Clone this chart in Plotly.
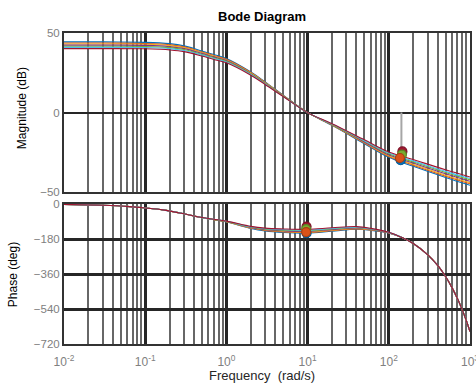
import plotly.graph_objects as go

# ---------------- data ----------------
freq_mag = [0.01, 0.03, 0.1, 0.15, 0.2, 0.3, 0.5, 0.7, 1, 2, 3, 5, 10, 20, 50, 100, 200, 500, 1000]
mag_blue   = [44.4, 44.4, 44.1, 43.8, 43.3, 41.9, 38.7, 36.5, 34.0, 25.5, 19.3, 11.0, 0, -8.0, -19.5, -28.1, -33.7, -40.7, -45.6]
mag_orange = [43.7, 43.7, 43.4, 43.1, 42.6, 41.3, 38.1, 35.9, 33.5, 25.2, 19.0, 10.8, 0, -7.8, -19.1, -27.5, -33.0, -39.9, -44.7]
mag_yellow = [43.1, 43.1, 42.9, 42.6, 42.1, 40.8, 37.7, 35.5, 33.1, 24.9, 18.8, 10.7, 0, -7.7, -18.8, -27.1, -32.4, -39.3, -44.0]
mag_purple = [42.4, 42.4, 42.2, 41.9, 41.4, 40.2, 37.2, 35.0, 32.7, 24.5, 18.5, 10.5, 0, -7.5, -18.4, -26.5, -31.7, -38.4, -43.1]
mag_green  = [41.7, 41.7, 41.5, 41.2, 40.8, 39.6, 36.6, 34.5, 32.2, 24.2, 18.3, 10.4, 0, -7.4, -17.9, -25.9, -31.0, -37.6, -42.2]
mag_cyan   = [41.0, 41.0, 40.9, 40.6, 40.2, 39.0, 36.1, 34.0, 31.8, 23.9, 18.0, 10.2, 0, -7.2, -17.6, -25.4, -30.3, -36.9, -41.4]
mag_red    = [40.2, 40.2, 40.1, 39.8, 39.4, 38.3, 35.5, 33.4, 31.3, 23.5, 17.7, 10.1, 0, -7.0, -17.1, -24.7, -29.5, -35.9, -40.4]

freq_ph = [0.01, 0.03, 0.065, 0.1, 0.165, 0.3, 0.5, 1, 2, 3, 5, 10, 20, 40, 60, 100,
           150, 200, 300, 400, 500, 600, 700, 800, 900, 1000]
ph_blue   = [-2, -6, -13, -20, -30, -50, -70.5, -92.0, -125.0, -138.0, -146.0, -150.0, -140.0, -130.0, -135.0, -149.0,
             -175, -203, -260, -316, -373, -430, -486, -543, -599, -656]
ph_orange = [-2, -6, -13, -20, -30, -50, -70.3, -91.3, -123.3, -135.6, -142.9, -146.5, -136.9, -127.6, -133.3, -148.3,
             -175, -203, -260, -316, -373, -430, -486, -543, -599, -656]
ph_yellow = [-2, -6, -13, -20, -30, -50, -70.2, -90.8, -122.0, -133.8, -140.6, -144.0, -134.6, -125.8, -132.0, -147.8,
             -175, -203, -260, -316, -373, -430, -486, -543, -599, -656]
ph_purple = [-2, -6, -13, -20, -30, -50, -70.0, -90.0, -120.3, -131.4, -137.5, -140.5, -131.5, -123.4, -130.3, -147.0,
             -175, -203, -260, -316, -373, -430, -486, -543, -599, -656]
ph_green  = [-2, -6, -13, -20, -30, -50, -69.9, -89.4, -118.5, -128.9, -134.3, -137.0, -128.3, -120.9, -128.5, -146.4,
             -175, -203, -260, -316, -373, -430, -486, -543, -599, -656]
ph_cyan   = [-2, -6, -13, -20, -30, -50, -69.7, -88.8, -117.0, -126.8, -131.6, -134.0, -125.6, -118.8, -127.0, -145.8,
             -175, -203, -260, -316, -373, -430, -486, -543, -599, -656]
ph_red    = [-2, -6, -13, -20, -30, -50, -69.5, -88.0, -115.0, -124.0, -128.0, -130.0, -122.0, -116.0, -125.0, -145.0,
             -175, -203, -260, -316, -373, -430, -486, -543, -599, -656]

# stability-margin markers (blue, red, green, orange draw order)
gm_freq = [140, 147, 145, 137]
gm_mag  = [-29.9, -24.4, -26.4, -28.5]
pm_freq = [9.7, 9.7, 9.6, 9.6]
pm_phase = [-150, -116, -129, -144]
gm_line_freq = [143, 143]
gm_line_mag = [0, -24]

x_tickvals = [0.01, 0.1, 1, 10, 100]
x_ticktext = ["10<sup>-2</sup>", "10<sup>-1</sup>", "10<sup>0</sup>",
              "10<sup>1</sup>", "10<sup>2</sup>"]
x_last_tick_exp = 3          # 10^3, at the right edge (partly cut in the reference)
x_last_tick_text = "10<sup>3</sup>"
mag_ticks = [-50, 0, 50]
ph_ticks = [-720, -540, -360, -180, 0]

colors = ["#0072BD", "#D95319", "#EDB120", "#7E2F8E", "#77AC30", "#4DBEEE", "#A2142F"]
mags = [mag_blue, mag_orange, mag_yellow, mag_purple, mag_green, mag_cyan, mag_red]
phs = [ph_blue, ph_orange, ph_yellow, ph_purple, ph_green, ph_cyan, ph_red]
marker_colors = ["#0072BD", "#A2142F", "#77AC30", "#D95319"]
marker_edges = ["#005a96", "#7a0f23", "#5a8424", "#a83f12"]

fig = go.Figure()

for c, m in zip(colors, mags):
    fig.add_trace(go.Scatter(x=freq_mag, y=m, mode="lines", line=dict(color=c, width=1.1, shape="spline"),
                             xaxis="x", yaxis="y", showlegend=False, hoverinfo="skip"))
for c, p in zip(colors, phs):
    fig.add_trace(go.Scatter(x=freq_ph, y=p, mode="lines", line=dict(color=c, width=1.1, shape="spline"),
                             xaxis="x2", yaxis="y2", showlegend=False, hoverinfo="skip"))

fig.add_trace(go.Scatter(x=gm_line_freq, y=gm_line_mag, mode="lines",
                         line=dict(color="#a6a6a6", width=2), xaxis="x", yaxis="y", showlegend=False))
for f, v, c, e in zip(gm_freq, gm_mag, marker_colors, marker_edges):
    fig.add_trace(go.Scatter(x=[f], y=[v], mode="markers", marker=dict(size=9, color=c, line=dict(color=e, width=1.2)),
                             xaxis="x", yaxis="y", showlegend=False))
for f, v, c, e in zip(pm_freq, pm_phase, marker_colors, marker_edges):
    fig.add_trace(go.Scatter(x=[f], y=[v], mode="markers", marker=dict(size=9, color=c, line=dict(color=e, width=1.2)),
                             xaxis="x2", yaxis="y2", showlegend=False))

minor_vals = [m * 10 ** k for k in range(-2, 3) for m in range(2, 10)]
xtickfont = dict(family="Liberation Sans, Arial, sans-serif", size=12, color="#808080")
ytickfont = dict(family="Liberation Sans, Arial, sans-serif", size=11.5, color="#808080")

xcommon = dict(type="log", range=[-2, 3], showgrid=True, gridcolor="#262626", gridwidth=3,
               minor=dict(tickmode="array", tickvals=minor_vals, showgrid=True, gridcolor="#676767", gridwidth=2, ticks=""),
               showline=True, linecolor="#333333", linewidth=2, mirror=True, ticks="", zeroline=False,
               tickvals=x_tickvals, ticktext=x_ticktext, tickfont=xtickfont)

fig.update_layout(
    width=476, height=389,
    margin=dict(l=64, r=4, t=33, b=45),
    paper_bgcolor="white", plot_bgcolor="white",
    font=dict(family="Liberation Sans, Arial, sans-serif"),
    xaxis=dict(xcommon, domain=[0, 1], anchor="y", showticklabels=False),
    xaxis2=dict(xcommon, domain=[0, 1], anchor="y2", matches="x", ticklabelstandoff=6),
    yaxis=dict(domain=[0.488, 1], range=[-50, 50], tickvals=mag_ticks, showgrid=True, gridcolor="#262626",
               gridwidth=2, zeroline=False, showline=True, linecolor="#333333", linewidth=2, mirror=True,
               ticks="", tickfont=ytickfont),
    yaxis2=dict(domain=[0, 0.450], range=[-720, 0], tickvals=ph_ticks, showgrid=True, gridcolor="#262626",
                gridwidth=2.5, zeroline=False, showline=True, linecolor="#333333", linewidth=2, mirror=True,
                ticks="", tickfont=ytickfont),
    annotations=[
        dict(text="<b>Bode Diagram</b>", x=0.4865, y=1.052, xref="paper", yref="paper", showarrow=False,
             font=dict(size=13, color="black"), xanchor="center", yanchor="middle"),
        dict(text="Frequency  (rad/s)", x=0.4865, y=-0.100, xref="paper", yref="paper", showarrow=False,
             font=dict(size=13, color="#262626"), xanchor="center", yanchor="middle"),
        dict(text="Magnitude (dB)", x=-0.103, y=0.759, xref="paper", yref="paper", showarrow=False,
             textangle=-90, font=dict(size=12, color="black"), xanchor="center", yanchor="middle"),
        dict(text="Phase (deg)", x=-0.125, y=0.222, xref="paper", yref="paper", showarrow=False,
             textangle=-90, font=dict(size=12, color="black"), xanchor="center", yanchor="middle"),
        dict(text=x_last_tick_text, x=x_last_tick_exp, xref="x2", y=-0.022, yref="paper", showarrow=False,
             font=xtickfont, xanchor="center", yanchor="top"),
    ],
)

fig.write_html("out.html", config={"displayModeBar": False},
               post_script="document.body.style.margin='0';document.body.style.overflow='hidden';")
